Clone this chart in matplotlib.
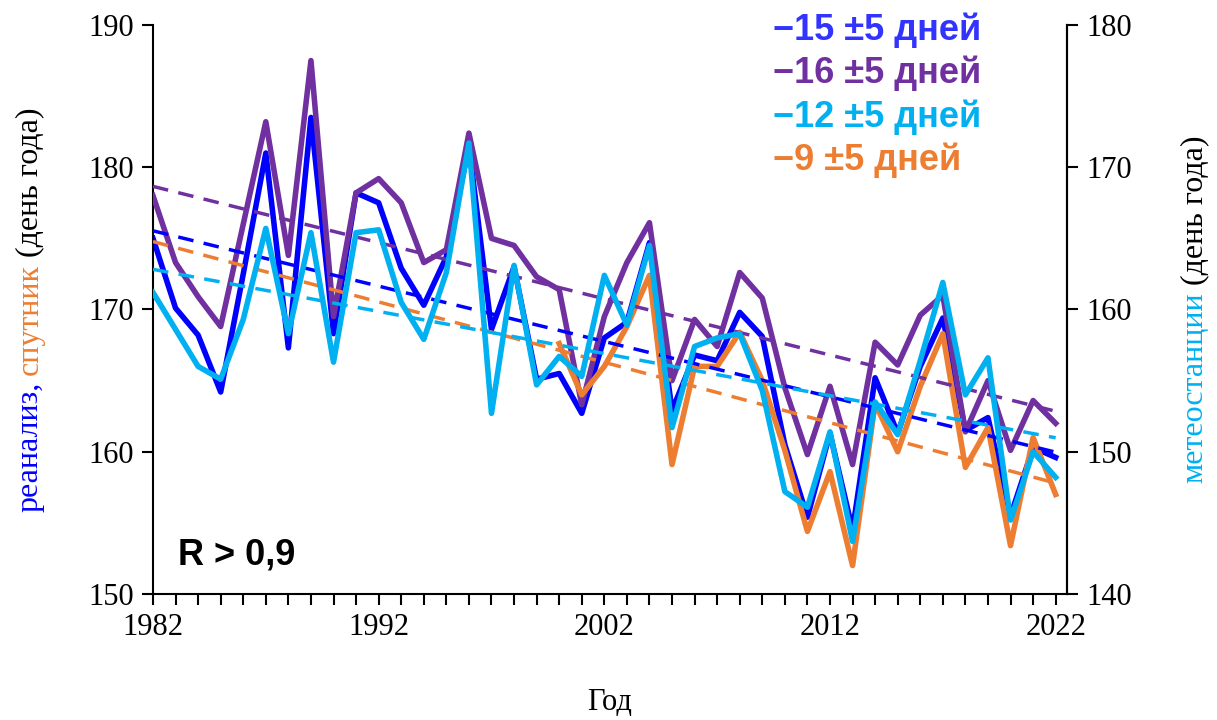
import matplotlib
matplotlib.use("Agg")
import matplotlib.pyplot as plt
import numpy as np

years = np.arange(1982, 2023)

# реанализ (левая ось)
reanalysis = [175.0, 170.1, 168.2, 164.2, 172.5, 181.0, 167.3, 183.5, 168.3, 178.2,
              177.5, 172.9, 170.3, 173.7, 181.5, 168.6, 173.0, 165.1, 165.5, 162.7,
              168.0, 169.1, 174.7, 162.9, 166.8, 166.4, 169.8, 168.1, 160.5, 155.4,
              161.3, 154.5, 165.2, 161.3, 166.0, 169.4, 161.5, 162.4, 155.5, 160.3,
              159.6]

# второй реанализ (левая ось)
reanalysis2 = [178.0, 173.3, 170.9, 168.8, 176.0, 183.2, 173.8, 187.5, 169.5, 178.2,
               179.2, 177.5, 173.3, 174.2, 182.4, 175.0, 174.5, 172.3, 171.4, 163.3,
               169.5, 173.3, 176.1, 165.0, 169.3, 167.4, 172.6, 170.8, 164.5, 159.8,
               164.6, 159.1, 167.7, 166.1, 169.6, 171.0, 161.4, 165.0, 160.1, 163.6,
               162.0]

# метеостанции (правая ось)
stations = [161.2, 158.6, 156.0, 155.1, 159.3, 165.7, 158.3, 165.4, 156.3, 165.4,
            165.6, 160.5, 157.9, 162.6, 171.7, 152.7, 163.1, 154.7, 156.7, 155.3,
            162.4, 158.9, 164.5, 151.7, 157.4, 158.0, 158.3, 154.3, 147.2, 146.1,
            151.4, 143.7, 153.5, 151.2, 156.4, 161.9, 154.0, 156.6, 145.2, 150.0,
            148.2]

# спутник, с 2000 года (левая ось)
sat_years = np.arange(2000, 2023)
satellite = [167.6, 164.0, 166.0, 168.8, 172.4, 159.1, 166.0, 166.0, 168.4, 165.0,
             160.1, 154.4, 158.6, 152.0, 163.4, 160.0, 164.6, 168.3, 158.9, 161.7,
             153.4, 161.0, 157.0]

trend_labels = ["\u221215 \u00b15 дней", "\u221216 \u00b15 дней",
                "\u221212 \u00b15 дней", "\u22129 \u00b15 дней"]

c_blue = "#0000ff"
c_purple = "#7030a0"
c_cyan = "#00b0f0"
c_orange = "#ed7d31"
c_blue_txt = "#3333ff"

serif = "Liberation Serif"
sans = "Liberation Sans"

fig = plt.figure(figsize=(12.17, 7.2), dpi=100)
ax = fig.add_axes([0.1257, 0.175, 0.751, 0.7903])
ax2 = ax.twinx()


def trend(x, y, x_out):
    k, b = np.polyfit(x, y, 1)
    return k * x_out + b


lw = 4.0
dlw = 2.5
dash = (4.5, 3)

ax.plot(years, reanalysis, color=c_blue, lw=lw, zorder=2)
ax.plot(years, reanalysis2, color=c_purple, lw=lw, zorder=3)
ax.plot(sat_years, satellite, color=c_orange, lw=lw, zorder=4)
ax.plot(years, trend(years, reanalysis, years), color=c_blue, lw=dlw,
        ls=(0, dash), zorder=5)
ax.plot(years, trend(years, reanalysis2, years), color=c_purple, lw=dlw,
        ls=(0, dash), zorder=5)
ax.plot(years, trend(sat_years, satellite, years), color=c_orange, lw=dlw,
        ls=(0, dash), zorder=5)

ax2.plot(years, stations, color=c_cyan, lw=lw, zorder=2)
ax2.plot(years, trend(years, stations, years), color=c_cyan, lw=dlw,
         ls=(0, dash), zorder=3)

ax.set_xlim(1982, 2022.5)
ax.set_ylim(150, 190)
ax2.set_ylim(140, 180)

ax.set_xticks(np.arange(1982, 2023, 10))
ax.set_xticks(years, minor=True)
ax.set_yticks(np.arange(150, 191, 10))
ax2.set_yticks(np.arange(140, 181, 10))

for a in (ax, ax2):
    a.spines["top"].set_visible(False)
    for s in a.spines.values():
        s.set_linewidth(1.5)
ax2.spines["left"].set_visible(False)
ax2.spines["bottom"].set_visible(False)

ax.tick_params(axis="x", which="both", direction="out", length=8, width=1.5,
               labelsize=22, pad=6)
ax.tick_params(axis="y", direction="out", length=8, width=1.5, labelsize=22, pad=6)
ax2.tick_params(axis="y", direction="out", length=8, width=1.5, labelsize=22, pad=6)
for lab in ax.get_xticklabels() + ax.get_yticklabels() + ax2.get_yticklabels():
    lab.set_fontfamily(serif)

ax.set_xlabel("Год", fontsize=22, family=serif, labelpad=33)

# подписи трендов
for i, (txt, col) in enumerate(zip(trend_labels,
                                   [c_blue_txt, c_purple, c_cyan, c_orange])):
    fig.text(773 / 1217, 1 - (30 + i * 43.5) / 720, txt, color=col,
             fontsize=26, fontweight="bold", family=sans, va="center", ha="left")

fig.text(178 / 1217, 1 - 555 / 720, "R > 0,9", fontsize=26, fontweight="bold",
         family=sans, va="center", ha="left")

# разноцветные подписи осей Y
fig.canvas.draw()
renderer = fig.canvas.get_renderer()
H = fig.bbox.height


def stacked_label(x, yc, parts, size):
    gap = size * 0.3
    items = []
    for s, c in parts:
        t = fig.text(x, 0, s, color=c, rotation=90, va="bottom", ha="center",
                     fontsize=size, family=serif)
        items.append((t, t.get_window_extent(renderer).height))
    total = sum(h for _, h in items) + gap * (len(items) - 1)
    y = yc * H - total / 2
    for t, h in items:
        t.set_position((x, y / H))
        y += h + gap


yc = 0.175 + 0.7903 / 2
stacked_label(30 / 1217, yc, [("реанализ,", c_blue), ("спутник", c_orange),
                              ("(день года)", "black")], 23)
stacked_label(1195 / 1217, yc, [("метеостанции", c_cyan),
                                ("(день года)", "black")], 23)

fig.savefig("out.png", dpi=100)
